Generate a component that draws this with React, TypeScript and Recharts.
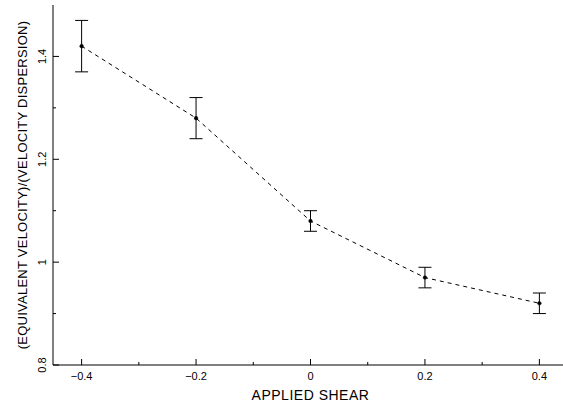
import React from "react";
import { ComposedChart, Line, XAxis, YAxis, ErrorBar, Label } from "recharts";

// shear values and measured velocity ratio with 1-sigma errors
const shear = [-0.4, -0.2, 0, 0.2, 0.4];
const ratio = [1.42, 1.28, 1.08, 0.97, 0.92];
const ratioErr = [0.05, 0.04, 0.02, 0.02, 0.02];

const xMajor = [-0.4, -0.2, 0, 0.2, 0.4];
const xMinor = [-0.3, -0.1, 0.1, 0.3];
const yMajor = [0.8, 1, 1.2, 1.4];
const yMinor = [0.9, 1.1, 1.3];

const data = shear.map((s, i) => ({ shear: s, ratio: ratio[i], err: ratioErr[i] }));

const FONT = "'Liberation Sans', Arial, Helvetica, sans-serif";
const isIn = (arr: number[], v: number) => arr.some((a) => Math.abs(a - v) < 1e-9);
const fmt = (v: number) => (v < 0 ? "\u2212" + String(-v) : String(v));

// ticks point into the plot; labels only on major ticks
function BottomTick(props: any) {
  const { x, y, payload } = props;
  const major = isIn(xMajor, payload.value);
  return (
    <g>
      <line x1={x} y1={y} x2={x} y2={y - (major ? 6 : 3)} stroke="#000" />
      {major && (
        <text x={x} y={y + 15} textAnchor="middle" fontSize={11} fontFamily={FONT} fill="#000">
          {fmt(payload.value)}
        </text>
      )}
    </g>
  );
}

function TopTick(props: any) {
  const { x, y, payload } = props;
  const major = isIn(xMajor, payload.value);
  return <line x1={x} y1={y} x2={x} y2={y + (major ? 6 : 3)} stroke="#000" />;
}

function LeftTick(props: any) {
  const { x, y, payload } = props;
  const major = isIn(yMajor, payload.value);
  const bx = x - 7;
  return (
    <g>
      <line x1={x} y1={y} x2={x + (major ? 6 : 3)} y2={y} stroke="#000" />
      {major && (
        <text
          x={bx}
          y={y}
          transform={`rotate(-90 ${bx} ${y})`}
          textAnchor="middle"
          fontSize={11}
          fontFamily={FONT}
          fill="#000"
        >
          {fmt(payload.value)}
        </text>
      )}
    </g>
  );
}

function RightTick(props: any) {
  const { x, y, payload } = props;
  const major = isIn(yMajor, payload.value);
  return <line x1={x} y1={y} x2={x - (major ? 6 : 3)} y2={y} stroke="#000" />;
}

function YTitle(props: any) {
  const { viewBox } = props;
  const cx = 27;
  const cy = viewBox.y + viewBox.height / 2;
  return (
    <text
      x={cx}
      y={cy}
      transform={`rotate(-90 ${cx} ${cy})`}
      textAnchor="middle"
      fontSize={13}
      letterSpacing={0.25}
      fontFamily={FONT}
      fill="#000"
    >
      (EQUIVALENT VELOCITY)/(VELOCITY DISPERSION)
    </text>
  );
}

function XTitle(props: any) {
  const { viewBox } = props;
  return (
    <text
      x={viewBox.x + viewBox.width / 2}
      y={viewBox.y + viewBox.height - 4}
      textAnchor="middle"
      fontSize={14}
      letterSpacing={0.5}
      fontFamily={FONT}
      fill="#000"
    >
      APPLIED SHEAR
    </text>
  );
}

const xTicks = [...xMajor, ...xMinor].sort((a, b) => a - b);
const yTicks = [...yMajor, ...yMinor].sort((a, b) => a - b);

export default function App() {
  return (
    <div
      style={{
        position: "fixed",
        left: 0,
        top: 0,
        width: 563,
        height: 404,
        overflow: "hidden",
        background: "#fff",
      }}
    >
      <ComposedChart width={580} height={404} data={data} margin={{ top: 5, right: 12, left: 0, bottom: 0 }}>
        <XAxis
          xAxisId="bottom"
          dataKey="shear"
          type="number"
          domain={[-0.45, 0.45]}
          ticks={xTicks}
          interval={0}
          height={39}
          tickSize={0}
          tickMargin={0}
          tickLine={false}
          tick={<BottomTick />}
          axisLine={{ stroke: "#000" }}
        >
          <Label content={<XTitle />} />
        </XAxis>
        <XAxis
          xAxisId="top"
          orientation="top"
          dataKey="shear"
          type="number"
          domain={[-0.45, 0.45]}
          ticks={xTicks}
          interval={0}
          height={0}
          tickSize={0}
          tickMargin={0}
          tickLine={false}
          tick={<TopTick />}
          axisLine={{ stroke: "#000" }}
        />
        <YAxis
          yAxisId="left"
          type="number"
          domain={[0.8, 1.5]}
          ticks={yTicks}
          interval={0}
          width={53}
          tickSize={0}
          tickMargin={0}
          tickLine={false}
          tick={<LeftTick />}
          axisLine={{ stroke: "#000" }}
        >
          <Label content={<YTitle />} />
        </YAxis>
        <YAxis
          yAxisId="right"
          orientation="right"
          type="number"
          domain={[0.8, 1.5]}
          ticks={yTicks}
          interval={0}
          width={0}
          tickSize={0}
          tickMargin={0}
          tickLine={false}
          tick={<RightTick />}
          axisLine={{ stroke: "#000" }}
        />
        <Line
          xAxisId="bottom"
          yAxisId="left"
          type="linear"
          dataKey="ratio"
          stroke="#000"
          strokeWidth={1}
          strokeDasharray="4 4"
          dot={{ r: 1.8, fill: "#000", stroke: "#000", strokeWidth: 0.5, strokeDasharray: "" }}
          isAnimationActive={false}
        >
          <ErrorBar dataKey="err" direction="y" width={6.5} stroke="#000" strokeWidth={1} />
        </Line>
      </ComposedChart>
    </div>
  );
}
